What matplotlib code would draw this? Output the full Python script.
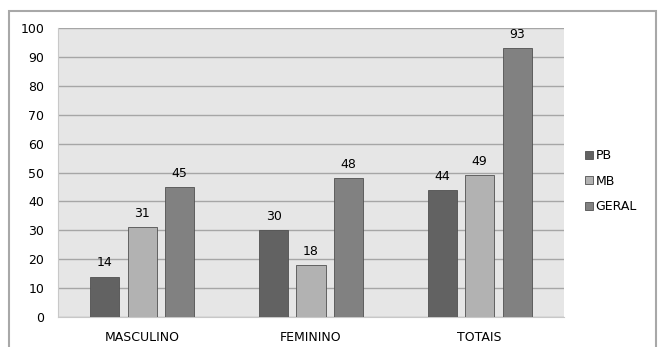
import numpy as np
import matplotlib
matplotlib.use("Agg")
import matplotlib.pyplot as plt
from matplotlib.patches import Rectangle

categories = ["MASCULINO", "FEMININO", "TOTAIS"]
series = ["PB", "MB", "GERAL"]
pb = [14, 30, 44]
mb = [31, 18, 49]
geral = [45, 48, 93]
colors = ["#626262", "#b2b2b2", "#818181"]

plt.rcParams['font.family'] = ['Verdana', 'DejaVu Sans']

fig = plt.figure(figsize=(6.58, 3.47), dpi=100)
fig.patches.append(Rectangle((9/658, -0.01), 647/658, 1 - 11/347 + 0.01,
                             transform=fig.transFigure, fill=False,
                             edgecolor="#a8a8a8", lw=1.5))
ax = fig.add_axes([58/658, 1 - 317/347, 506/658, 289/347])
ax.set_facecolor("#e6e6e6")

x = np.arange(len(categories))
w = 0.172
step = 0.222
for i, (name, vals) in enumerate(zip(series, [pb, mb, geral])):
    bars = ax.bar(x + (i - 1) * step, vals, w, color=colors[i],
                  edgecolor="#505050", linewidth=0.6, label=name, zorder=3)
    for b, v in zip(bars, vals):
        ax.text(b.get_x() + b.get_width() / 2, v + 2.5, str(v),
                ha="center", va="bottom", fontsize=9)

ax.set_xlim(-0.5, 2.5)
ax.set_ylim(0, 100)
ax.set_yticks(range(0, 101, 10))
ax.set_xticks(x)
ax.set_xticklabels(categories)
ax.tick_params(axis="both", length=0, labelsize=9)
ax.tick_params(axis="x", pad=10)
ax.tick_params(axis="y", pad=10)
ax.grid(axis="y", color="#a6a6a6", lw=1.0, zorder=0)
for s in ["top", "right"]:
    ax.spines[s].set_visible(False)
ax.spines["left"].set_color("#c8c8c8")
ax.spines["bottom"].set_color("#c8c8c8")

leg = ax.legend(loc="center left", bbox_to_anchor=(1.02, 0.47), frameon=False,
                fontsize=9, handlelength=0.6, handleheight=0.6,
                handletextpad=0.2, labelspacing=1.0)

fig.savefig("out.png", dpi=100)
